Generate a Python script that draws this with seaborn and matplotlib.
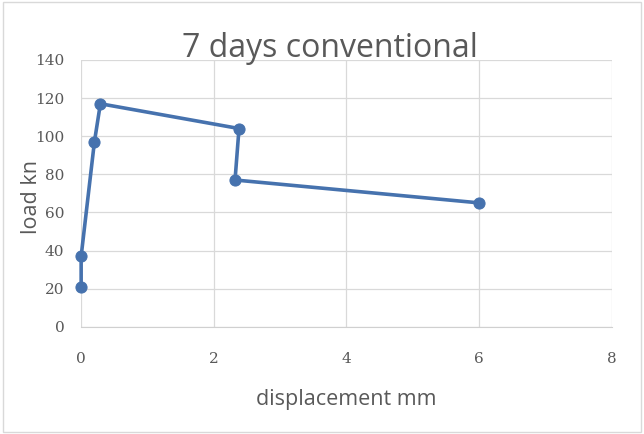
import matplotlib
matplotlib.use("Agg")
import matplotlib.pyplot as plt
import seaborn as sns
import pandas as pd

displacement = [0.0, 0.0, 0.20, 0.29, 2.38, 2.32, 6.0]
load = [21, 37, 97, 117, 104, 77, 65]
x_ticks = [0, 2, 4, 6, 8]
y_ticks = [0, 20, 40, 60, 80, 100, 120, 140]

df = pd.DataFrame({"displacement": displacement, "load": load})

sns.set_style("white")
fig = plt.figure(figsize=(6.44, 4.34), dpi=100)
ax = fig.add_axes([0.126, 0.247, 0.824, 0.615])

line_color = "#4672AE"
sns.lineplot(data=df, x="displacement", y="load", sort=False, estimator=None,
             ax=ax, color=line_color, linewidth=2.6, marker="o", markersize=8,
             markeredgecolor=line_color, markerfacecolor=line_color, zorder=3,
             clip_on=False)

ax.set_xlim(0, 8)
ax.set_ylim(0, 140)
ax.set_xticks(x_ticks)
ax.set_yticks(y_ticks)
ax.grid(True, color="#d9d9d9", linewidth=0.9)
for s in ["top", "left", "right"]:
    ax.spines[s].set_visible(False)
ax.spines["bottom"].set_color("#d0d0d0")
ax.tick_params(axis="both", length=0, labelsize=11, labelcolor="#595959")
ax.tick_params(axis="x", pad=18)
ax.tick_params(axis="y", pad=12)
for lab in ax.get_xticklabels() + ax.get_yticklabels():
    lab.set_family("DejaVu Serif")
ax.set_axisbelow(True)

ax.set_xlabel("displacement mm", fontsize=15.5, color="#595959", family="Open Sans", labelpad=17)
ax.set_ylabel("load kn", fontsize=15.5, color="#595959", family="Open Sans")
ax.yaxis.set_label_coords(-0.073, 0.487)
fig.text(0.513, 0.888, "7 days conventional", ha="center", va="center",
         fontsize=23, color="#595959", family="Open Sans")

border = plt.Rectangle((0.005, 0.005), 0.99, 0.99, transform=fig.transFigure,
                       fill=False, edgecolor="#d9d9d9", linewidth=1)
fig.patches.append(border)

fig.savefig("out.png", dpi=100)
